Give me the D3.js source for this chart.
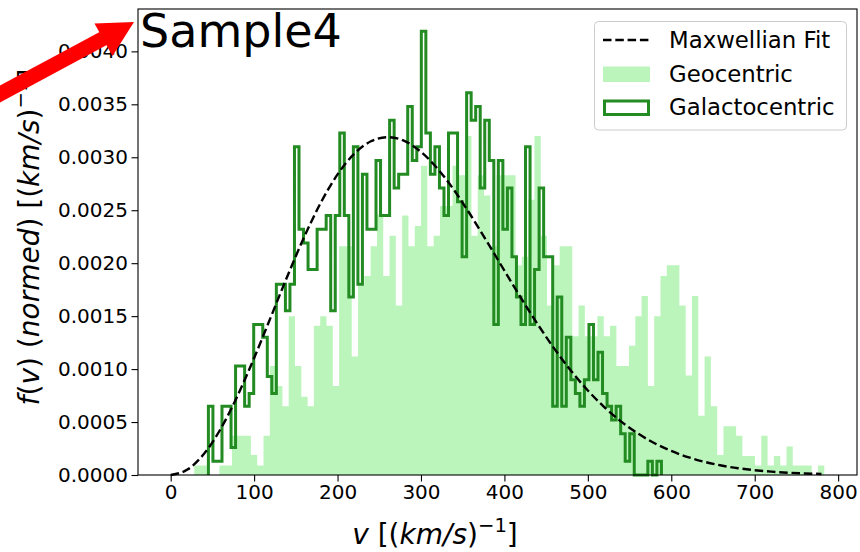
<!DOCTYPE html>
<html><head><meta charset="utf-8">
<script src="https://cdn.jsdelivr.net/npm/d3@7"></script>
<style>body{margin:0;background:#fff}svg{display:block}text{font-family:"DejaVu Sans",sans-serif}</style>
</head><body><svg id="chart" width="860" height="552"></svg>
<script>
// ---- data ----
const titleText = "Sample4";
const geoRange = [28.2, 783.4];           // bin range of geocentric histogram (100 bins)
const geoValues = [0.00009,0.00009,0,0,0.00009,0.00009,0.00037,0.00037,0.00037,0.00019,
 0.00009,0.00037,0.00103,0.00084,0.00065,0.0015,0.00103,0.00074,0.00065,0.00141,
 0.0015,0.00141,0.00084,0.00216,0.00216,0.00112,0.00179,0.00188,0.00216,0.00246,
 0.00188,0.00226,0.0016,0.00245,0.00216,0.00235,0.00292,0.00216,0.00226,0.00254,
 0.00254,0.00292,0.00283,0.0032,0.00226,0.00283,0.00264,0.00216,0.00283,0.00283,
 0.00283,0.00198,0.00206,0.0026,0.0032,0.00226,0.0016,0.00198,0.00216,0.00216,
 0.00131,0.0016,0.00131,0.00131,0.0015,0.00131,0.00141,0.00103,0.00103,0.00122,
 0.0015,0.00169,0.00084,0.0015,0.00188,0.00198,0.00198,0.0016,0.00094,0.00169,
 0.00056,0.00112,0.00065,0.00019,0.00046,0.00046,0.00037,0.00018,0.00018,0.00009,
 0.00037,0.00009,0.00018,0.00009,0.00027,0.00009,0.00009,0.00009,0,0.00009];
const galRange = [45.2, 588.2];           // bin range of galactocentric histogram (100 bins)
const galValues = [0.00065,0.00013,0.00013,0.00065,0.00065,0.00026,0.00103,0.00103,0.00065,0.00077,
 0.00142,0.00142,0.0013,0.00093,0.00077,0.0018,0.0018,0.00155,0.0018,0.0031,
 0.00232,0.00219,0.00194,0.00194,0.00232,0.00232,0.00245,0.00155,0.00245,0.00323,
 0.00245,0.00168,0.0031,0.0018,0.00284,0.00232,0.00232,0.00297,0.00245,0.00245,
 0.00335,0.00271,0.00284,0.00284,0.00348,0.00297,0.0031,0.00419,0.00323,0.00284,
 0.0031,0.00271,0.00245,0.00323,0.00323,0.00258,0.00206,0.00361,0.00335,0.00348,
 0.00271,0.00335,0.00297,0.00142,0.00297,0.00232,0.00271,0.00206,0.00168,0.00142,
 0.0031,0.00142,0.00194,0.00271,0.00206,0.00206,0.00065,0.00168,0.00065,0.0013,
 0.0009,0.00077,0.00065,0.0009,0.00142,0.0009,0.00116,0.00077,0.00065,0.00052,
 0.00065,0.00039,0.00013,0.00039,0,0,0,0.00013,0,0.00013];
const fitV = [0,20,40,60,80,100,120,140,160,180,200,220,240,260,280,300,320,340,360,380,
 400,420,440,460,480,500,520,540,560,580,600,620,640,660,680,700,720,740,760,780];
const fitF = [0,0.000051,0.000200,0.000437,0.000746,0.001105,0.001491,0.001879,0.002247,0.002572,
 0.002838,0.003033,0.003151,0.003190,0.003155,0.003051,0.002891,0.002686,0.002448,0.002192,
 0.001929,0.001670,0.001422,0.001191,0.000982,0.000798,0.000639,0.000504,0.000392,0.000300,
 0.000227,0.000169,0.000124,0.0000897,0.0000641,0.0000452,0.0000315,0.0000216,0.0000146,0.0000098];
const xTicks = [0,100,200,300,400,500,600,700,800];
const yTicks = [0,0.0005,0.001,0.0015,0.002,0.0025,0.003,0.0035,0.004];
const legendLabels = ["Maxwellian Fit","Geocentric","Galactocentric"];

// ---- layout ----
const svg = d3.select("#chart");
const L = 138, R = 857, T = 9, B = 475;
const x = d3.scaleLinear().domain([-39.17, 822.6]).range([L, R]);
const y = d3.scaleLinear().domain([0, 0.0044]).range([B, T]);

function binPoints(range, vals){
  const n = vals.length, w = (range[1]-range[0])/n;
  const pts = vals.map((v,i)=>({v: range[0]+i*w, f: v}));
  pts.push({v: range[1], f: vals[n-1]});
  return pts;
}

const plot = svg.append("g");
// geocentric filled histogram
const geoPts = binPoints(geoRange, geoValues);
plot.append("path")
  .attr("d", d3.area().x(d=>x(d.v)).y0(y(0)).y1(d=>y(d.f)).curve(d3.curveStepAfter)(geoPts))
  .attr("fill", "#90ee90").attr("fill-opacity", 0.6);

// galactocentric step histogram
const galPts = binPoints(galRange, galValues);
const galLine = [{v: galRange[0], f: 0}].concat(galPts).concat([{v: galRange[1], f: 0}]);
plot.append("path")
  .attr("d", d3.line().x(d=>x(d.v)).y(d=>y(d.f)).curve(d3.curveStepAfter)(galLine))
  .attr("fill", "none").attr("stroke", "#228b22").attr("stroke-width", 3)
  .attr("stroke-linejoin", "miter");

// Maxwellian fit
const fitPts = fitV.map((v,i)=>({v, f: fitF[i]}));
plot.append("path")
  .attr("d", d3.line().x(d=>x(d.v)).y(d=>y(d.f)).curve(d3.curveMonotoneX)(fitPts))
  .attr("fill", "none").attr("stroke", "#000").attr("stroke-width", 2.4)
  .attr("stroke-dasharray", "8.5,3.8");

// axes
const xAxis = svg.append("g").attr("transform", `translate(0,${B})`)
  .call(d3.axisBottom(x).tickValues(xTicks).tickSize(6.5).tickPadding(3.5).tickFormat(d3.format("d")));
const yAxis = svg.append("g").attr("transform", `translate(${L},0)`)
  .call(d3.axisLeft(y).tickValues(yTicks).tickSize(6.5).tickPadding(3.5).tickFormat(d3.format(".4f")));
[xAxis, yAxis].forEach(g=>{
  g.select(".domain").remove();
  g.selectAll("text").attr("font-size", 20).attr("font-family", "DejaVu Sans").attr("fill", "#000");
  g.selectAll("line").attr("stroke", "#000").attr("stroke-width", 1.1);
});
// frame
svg.append("rect").attr("x", L).attr("y", T).attr("width", R-L).attr("height", B-T)
  .attr("fill", "none").attr("stroke", "#000").attr("stroke-width", 1.1);

// axis labels
const xl = svg.append("text").attr("x", 435).attr("y", 544).attr("text-anchor", "middle").attr("font-size", 28);
xl.append("tspan").attr("font-style", "italic").text("v");
xl.append("tspan").text(" [(");
xl.append("tspan").attr("font-style", "italic").text("km/s");
xl.append("tspan").text(")");
xl.append("tspan").attr("font-size", 19.6).attr("dy", -12).text("−1");
xl.append("tspan").attr("dy", 12).text("]");

const yl = svg.append("text").attr("transform", "translate(39,237) rotate(-90)")
  .attr("text-anchor", "middle").attr("font-size", 28);
yl.append("tspan").attr("font-style", "italic").text("f");
yl.append("tspan").text("(");
yl.append("tspan").attr("font-style", "italic").text("v");
yl.append("tspan").text(") (");
yl.append("tspan").attr("font-style", "italic").text("normed");
yl.append("tspan").text(") [(");
yl.append("tspan").attr("font-style", "italic").text("km/s");
yl.append("tspan").text(")");
yl.append("tspan").attr("font-size", 19.6).attr("dy", -12).text("−1");
yl.append("tspan").attr("dy", 12).text("]");

// title
svg.append("text").attr("x", 140).attr("y", 47).attr("font-size", 46).attr("fill", "#000").text(titleText);

// legend
const lg = svg.append("g");
lg.append("rect").attr("x", 594.5).attr("y", 21.5).attr("width", 252).attr("height", 108.5)
  .attr("rx", 4).attr("fill", "#fff").attr("fill-opacity", 0.8).attr("stroke", "#cccccc").attr("stroke-width", 1);
lg.append("line").attr("x1", 603).attr("x2", 650).attr("y1", 40).attr("y2", 40)
  .attr("stroke", "#000").attr("stroke-width", 2.4).attr("stroke-dasharray", "8.5,3.8");
lg.append("rect").attr("x", 603).attr("y", 66.5).attr("width", 47).attr("height", 15.5)
  .attr("fill", "#90ee90").attr("fill-opacity", 0.6);
lg.append("rect").attr("x", 604.5).attr("y", 101).attr("width", 44).attr("height", 13.5)
  .attr("fill", "none").attr("stroke", "#228b22").attr("stroke-width", 3);
[47.5, 81.5, 115].forEach((by,i)=>{
  lg.append("text").attr("x", 669).attr("y", by).attr("font-size", 22.8).attr("fill", "#000").text(legendLabels[i]);
});

// red arrow annotation
const arrow = svg.append("g").attr("fill", "#ff0000");
arrow.append("line").attr("x1", -12).attr("y1", 100.5).attr("x2", 106).attr("y2", 37)
  .attr("stroke", "#ff0000").attr("stroke-width", 15);
arrow.append("polygon").attr("points", "134,22 94.5,23.5 112.5,56");
</script></body></html>
